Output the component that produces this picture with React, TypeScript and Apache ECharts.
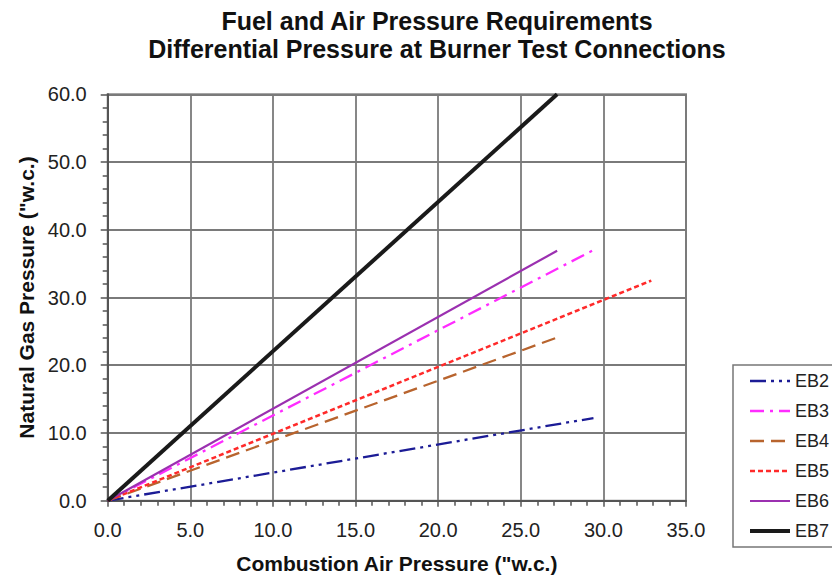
import React, { useEffect, useRef } from "react";
import * as echarts from "echarts";

const titleLines = [
  "Fuel and Air Pressure Requirements",
  "Differential Pressure at Burner Test Connections",
];
const xAxisName = 'Combustion Air Pressure ("w.c.)';
const yAxisName = 'Natural Gas Pressure ("w.c.)';

const seriesNames = ["EB2", "EB3", "EB4", "EB5", "EB6", "EB7"];
// [air pressure, gas pressure] points
const eb2 = [[0, 0], [29.4, 12.2]];
const eb3 = [[0, 0], [29.4, 37.0]];
const eb4 = [[0, 0], [27.1, 24.0]];
const eb5 = [[0, 0], [32.9, 32.5]];
const eb6 = [[0, 0], [27.2, 36.9]];
const eb7 = [[0, 0], [27.2, 60.0]];
const seriesData = [eb2, eb3, eb4, eb5, eb6, eb7];

const seriesColors = ["#1c1c96", "#ff2cff", "#b8642e", "#ff2a2a", "#9b30b0", "#1a1a1a"];
const seriesWidths = [2.3, 2.3, 2.3, 2.5, 2.2, 4];
const seriesDash: any[] = [
  [16, 5, 3, 5, 3, 5],
  [14, 6, 3, 6],
  [14, 7],
  [5, 3],
  "solid",
  "solid",
];

const FONT = "'Liberation Sans', Arial, sans-serif";

export default function App() {
  const ref = useRef<HTMLDivElement>(null);
  useEffect(() => {
    document.body.style.margin = "0";
    const chart = echarts.init(ref.current!, null, { renderer: "svg" });
    const axisColor = "#555";
    chart.setOption({
      animation: false,
      backgroundColor: "#fff",
      textStyle: { fontFamily: FONT },
      graphic: titleLines.map((t, i) => ({
        type: "text",
        x: 437,
        y: 21 + i * 28,
        style: {
          text: t,
          font: `bold 25px ${FONT}`,
          fill: "#111",
          textAlign: "center",
          textVerticalAlign: "middle",
        },
      })),
      grid: {
        left: 107.7,
        right: 146,
        top: 94.3,
        bottom: 79.3,
        show: true,
        borderColor: "#888",
        borderWidth: 2,
        backgroundColor: "#fff",
      },
      legend: {
        orient: "vertical",
        left: 733,
        top: 365,
        padding: [7, 40, 7, 15],
        itemWidth: 40,
        itemHeight: 14,
        itemGap: 12,
        borderColor: "#777",
        borderWidth: 1.5,
        backgroundColor: "#fff",
        itemStyle: { opacity: 0 },
        textStyle: { fontSize: 18, lineHeight: 18, color: "#222", fontFamily: FONT },
        data: seriesNames.map((name, i) => ({
          name,
          lineStyle: { width: seriesWidths[i], color: seriesColors[i], type: seriesDash[i] },
        })),
      },
      xAxis: {
        type: "value",
        min: 0,
        max: 35,
        interval: 5,
        name: xAxisName,
        nameLocation: "middle",
        nameGap: 52,
        nameTextStyle: { fontWeight: "bold", fontSize: 21, color: "#111", fontFamily: FONT },
        axisLine: { show: true, onZero: false, lineStyle: { color: axisColor, width: 2 } },
        axisTick: { show: true, length: 6, lineStyle: { color: axisColor, width: 1.5 } },
        minorTick: { show: true, splitNumber: 5, length: 5, lineStyle: { color: axisColor, width: 1.5 } },
        splitLine: { show: true, lineStyle: { color: "#7a7a7a", width: 1.8 } },
        axisLabel: {
          formatter: (v: number) => v.toFixed(1),
          fontSize: 20,
          color: "#222",
          margin: 19,
          fontFamily: FONT,
        },
      },
      yAxis: {
        type: "value",
        min: 0,
        max: 60,
        interval: 10,
        name: yAxisName,
        nameLocation: "middle",
        nameGap: 71,
        nameTextStyle: { fontWeight: "bold", fontSize: 21, color: "#111", fontFamily: FONT },
        axisLine: { show: true, onZero: false, lineStyle: { color: axisColor, width: 2 } },
        axisTick: { show: true, length: 7, lineStyle: { color: axisColor, width: 1.5 } },
        minorTick: { show: true, splitNumber: 5, length: 5, lineStyle: { color: axisColor, width: 1.5 } },
        splitLine: { show: true, lineStyle: { color: "#7a7a7a", width: 1.8 } },
        axisLabel: {
          formatter: (v: number) => v.toFixed(1),
          fontSize: 20,
          color: "#222",
          margin: 21,
          fontFamily: FONT,
        },
      },
      series: seriesNames.map((name, i) => ({
        name,
        type: "line",
        data: seriesData[i],
        symbol: "none",
        showSymbol: false,
        clip: true,
        z: 2 + i,
        itemStyle: { color: seriesColors[i] },
        lineStyle: { color: seriesColors[i], width: seriesWidths[i], type: seriesDash[i] },
      })),
    });
    return () => chart.dispose();
  }, []);
  return <div ref={ref} style={{ width: 832, height: 580 }} />;
}
